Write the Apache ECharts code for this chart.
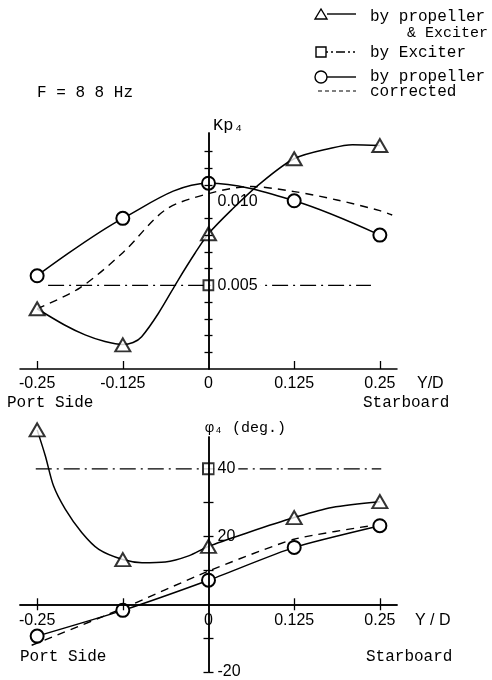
<!DOCTYPE html>
<html>
<head>
<meta charset="utf-8">
<script src="https://cdn.jsdelivr.net/npm/echarts@6/dist/echarts.min.js"></script>
<style>
html,body{margin:0;padding:0;background:#fff;}
#c{width:492px;height:680px;}
</style>
</head>
<body>
<div id="c"></div>
<script>
// ---------- data ----------
const yd = [-0.25, -0.125, 0, 0.125, 0.25];
const xLabelsTop = ['-0.25', '-0.125', '0', '0.125', '0.25'];
const xValsBottom = [-0.25, 0, 0.125, 0.25];
const xLabelsBottom = ['-0.25', '0', '0.125', '0.25'];
const xTickVals = [-0.25, -0.125, 0.125, 0.25];

const kpLabelVals = [0.005, 0.010];
const kpMinorTicks = [0.001, 0.002, 0.003, 0.004, 0.006, 0.007, 0.008, 0.009, 0.011, 0.012, 0.013];
const phiLabelVals = [-20, 20, 40];
const phiMinorTicks = [-20, -10, 10, 20, 30];

// Kp4 (top chart)
const kpPropExc = [0.00360, 0.00144, 0.00808, 0.01256, 0.01335];
const kpPropExcCurveX = [-0.25, -0.21, -0.18, -0.151, -0.125, -0.11, -0.0975, -0.073, -0.044, -0.0195, 0, 0.034, 0.073, 0.125, 0.18, 0.21, 0.25];
const kpPropExcCurveY = [0.00360, 0.00263, 0.00204, 0.00164, 0.00146, 0.00158, 0.00193, 0.00333, 0.00533, 0.00693, 0.00808, 0.00952, 0.01100, 0.01256, 0.01320, 0.01340, 0.01335];
const kpProp = [0.00557, 0.00900, 0.01110, 0.01005, 0.00800];
const kpExciter = 0.005;
const kpExciterSpan = [-0.234, 0.237];
const kpCorrectedX = [-0.25, -0.1875, -0.125, -0.0625, 0, 0.0625, 0.125, 0.1875, 0.25, 0.268];
const kpCorrectedY = [0.00360, 0.00485, 0.00695, 0.00952, 0.01048, 0.01090, 0.01060, 0.01010, 0.00946, 0.00920];

// phi4 (bottom chart)
const phiPropExc = [51.5, 13.2, 17.1, 25.6, 30.3];
const phiPropExcCurveX = [-0.25, -0.238, -0.226, -0.209, -0.185, -0.160, -0.125, -0.097, -0.063, -0.029, 0, 0.058, 0.125, 0.18, 0.25];
const phiPropExcCurveY = [51.5, 43.8, 34.9, 28.1, 21.2, 16.2, 13.2, 12.3, 12.5, 14.3, 17.1, 21.2, 25.6, 28.6, 30.3];
const phiProp = [-9.4, -1.8, 7.1, 16.8, 23.2];
const phiExciter = 40;
const phiExciterSpan = [-0.252, 0.252];
const phiCorrectedX = [-0.258, -0.125, 0, 0.125, 0.25];
const phiCorrectedY = [-12.1, -1.2, 9.8, 19.2, 23.6];

// ---------- chart ----------
const BLACK = '#000';
const NUM_FONT = 'Liberation Sans';
const TXT_FONT = 'Liberation Mono';
const LW = 1.5;
const X_RANGE = [-0.275, 0.275];
const KP_RANGE = [0, 0.0141];
const PHI_RANGE = [-20, 49.4];
const GRID_TOP = { left: 20, top: 133, width: 377, height: 236 };
const GRID_BOT = { left: 20, top: 437, width: 377, height: 235 };

const pairs = (xs, ys) => xs.map((x, i) => [x, ys[i]]);
const lookup = (vals, labels, v) => {
  const i = vals.findIndex(t => Math.abs(t - v) < 1e-9);
  return i < 0 ? '' : labels[i];
};
// distance (px) from the low edge of an axis to its zero value
const zeroDist = (range, len) => (0 - range[0]) / (range[1] - range[0]) * len;
const yZeroOffTop = zeroDist(X_RANGE, GRID_TOP.width);     // from left edge
const yZeroOffBot = zeroDist(X_RANGE, GRID_BOT.width);
const xZeroOffBot = zeroDist(PHI_RANGE, GRID_BOT.height);  // from bottom edge

const axisLineStyle = { color: BLACK, width: LW };
const tickStyle = { color: BLACK, width: 1.3 };
const numLabel = { color: BLACK, fontFamily: NUM_FONT, fontSize: 16 };

function xAxisDef(grid, opts) {
  return Object.assign({
    gridIndex: grid, type: 'value', min: X_RANGE[0], max: X_RANGE[1], z: 5,
    axisLine: { onZero: false, lineStyle: axisLineStyle },
    splitLine: { show: false }
  }, opts);
}
function yAxisDef(grid, range, opts) {
  return Object.assign({
    gridIndex: grid, type: 'value', min: range[0], max: range[1], z: 5,
    axisLine: { onZero: false, lineStyle: axisLineStyle },
    splitLine: { show: false }
  }, opts);
}
const richLabel = (fmt, whiteVal, vals) => ({
  inside: true, margin: 6,
  customValues: vals,
  formatter: v => (Math.abs(v - whiteVal) < 1e-9 ? '{w|' : '{n|') + fmt(v) + '}',
  rich: {
    w: Object.assign({ backgroundColor: '#fff', padding: [1, 3] }, numLabel),
    n: Object.assign({ padding: [1, 3] }, numLabel)
  }
});

const solid = { color: BLACK, width: LW };
const markerStyle = { color: BLACK, borderColor: BLACK, borderWidth: LW };

const option = {
  backgroundColor: '#fff',
  animation: false,
  grid: [
    Object.assign({ outerBoundsMode: 'none' }, GRID_TOP),
    Object.assign({ outerBoundsMode: 'none' }, GRID_BOT)
  ],
  xAxis: [
    xAxisDef(0, {
      position: 'bottom',
      axisTick: { inside: true, length: 8, customValues: xTickVals, lineStyle: tickStyle },
      axisLabel: Object.assign({ customValues: yd, margin: 7, formatter: v => lookup(yd, xLabelsTop, v) }, numLabel)
    }),
    xAxisDef(1, {
      position: 'bottom', offset: -xZeroOffBot,
      axisTick: { length: 6, customValues: xTickVals, lineStyle: tickStyle },
      axisLabel: Object.assign({ customValues: xValsBottom, margin: 8, formatter: v => lookup(xValsBottom, xLabelsBottom, v) }, numLabel)
    }),
    xAxisDef(1, {
      position: 'top', offset: -(GRID_BOT.height - xZeroOffBot),
      axisTick: { length: 6, customValues: xTickVals, lineStyle: tickStyle },
      axisLabel: { show: false }
    })
  ],
  yAxis: [
    yAxisDef(0, KP_RANGE, {
      position: 'left', offset: -yZeroOffTop,
      axisTick: { length: 4, customValues: kpMinorTicks, lineStyle: tickStyle },
      axisLabel: richLabel(v => v.toFixed(3), kpExciter, kpLabelVals)
    }),
    yAxisDef(0, KP_RANGE, {
      position: 'right', offset: -(GRID_TOP.width - yZeroOffTop),
      axisTick: { length: 4, customValues: kpMinorTicks, lineStyle: tickStyle },
      axisLabel: { show: false }
    }),
    yAxisDef(1, PHI_RANGE, {
      position: 'left', offset: -yZeroOffBot,
      axisTick: { length: 5, customValues: phiMinorTicks, lineStyle: tickStyle },
      axisLabel: richLabel(v => String(Math.round(v)), phiExciter, phiLabelVals)
    }),
    yAxisDef(1, PHI_RANGE, {
      position: 'right', offset: -(GRID_BOT.width - yZeroOffBot),
      axisTick: { length: 5, customValues: phiMinorTicks, lineStyle: tickStyle },
      axisLabel: { show: false }
    })
  ],
  series: [
    // ----- top: Kp4 -----
    { type: 'line', xAxisIndex: 0, yAxisIndex: 0, data: pairs(kpPropExcCurveX, kpPropExcCurveY),
      smooth: 0.3, symbol: 'none', lineStyle: solid, z: 3, silent: true },
    { type: 'scatter', xAxisIndex: 0, yAxisIndex: 0, data: pairs(yd, kpPropExc),
      symbol: 'emptyTriangle', symbolSize: [15, 13], itemStyle: markerStyle, z: 4 },
    { type: 'line', xAxisIndex: 0, yAxisIndex: 0, data: pairs(yd, kpProp),
      smooth: 0.35, symbol: 'emptyCircle', symbolSize: 13, showAllSymbol: true,
      lineStyle: solid, itemStyle: markerStyle, z: 4 },
    { type: 'line', xAxisIndex: 0, yAxisIndex: 0, data: kpExciterSpan.map(x => [x, kpExciter]),
      symbol: 'none', lineStyle: { color: BLACK, width: 1.3, type: [16, 5, 2, 5] }, z: 3 },
    { type: 'scatter', xAxisIndex: 0, yAxisIndex: 0, data: [[0, kpExciter]],
      symbol: 'emptyRect', symbolSize: 10, itemStyle: markerStyle, z: 4 },
    { type: 'line', xAxisIndex: 0, yAxisIndex: 0, data: pairs(kpCorrectedX, kpCorrectedY),
      smooth: 0.3, symbol: 'none', lineStyle: { color: BLACK, width: 1.4, type: [8, 6] }, z: 3 },

    // ----- bottom: phi4 -----
    { type: 'line', xAxisIndex: 1, yAxisIndex: 2, data: pairs(phiPropExcCurveX, phiPropExcCurveY),
      smooth: 0.3, symbol: 'none', lineStyle: solid, z: 3, clip: false },
    { type: 'scatter', xAxisIndex: 1, yAxisIndex: 2, data: pairs(yd, phiPropExc),
      symbol: 'emptyTriangle', symbolSize: [15, 13], itemStyle: markerStyle, z: 4, clip: false },
    { type: 'line', xAxisIndex: 1, yAxisIndex: 2, data: pairs(yd, phiProp),
      smooth: 0.2, symbol: 'emptyCircle', symbolSize: 13, showAllSymbol: true,
      lineStyle: solid, itemStyle: markerStyle, z: 4 },
    { type: 'line', xAxisIndex: 1, yAxisIndex: 2, data: phiExciterSpan.map(x => [x, phiExciter]),
      symbol: 'none', lineStyle: { color: BLACK, width: 1.3, type: [16, 5, 2, 5] }, z: 3 },
    { type: 'scatter', xAxisIndex: 1, yAxisIndex: 2, data: [[0, phiExciter]],
      symbol: 'emptyRect', symbolSize: 11, itemStyle: markerStyle, z: 4 },
    { type: 'line', xAxisIndex: 1, yAxisIndex: 2, data: pairs(phiCorrectedX, phiCorrectedY),
      smooth: 0.2, symbol: 'none', lineStyle: { color: BLACK, width: 1.4, type: [8, 6] }, z: 3, clip: false }
  ],
  graphic: [
    { type: 'text', x: 37, y: 93, style: { text: 'F = 8 8 Hz', fontFamily: TXT_FONT, fontSize: 16, fill: BLACK, verticalAlign: 'middle' } },
    { type: 'text', x: 213, y: 125, style: { text: 'Kp\u2084', fontFamily: TXT_FONT, fontSize: 17, fill: BLACK, verticalAlign: 'middle' } },
    { type: 'text', x: 205, y: 428, style: { text: '\u03C6\u2084 (deg.)', fontFamily: TXT_FONT, fontSize: 15, fill: BLACK, verticalAlign: 'middle' } },
    { type: 'text', x: 417, y: 384, style: { text: 'Y/D', fontFamily: NUM_FONT, fontSize: 16, fill: BLACK, verticalAlign: 'middle' } },
    { type: 'text', x: 415, y: 621, style: { text: 'Y / D', fontFamily: NUM_FONT, fontSize: 16, fill: BLACK, verticalAlign: 'middle' } },
    { type: 'text', x: 7, y: 403, style: { text: 'Port Side', fontFamily: TXT_FONT, fontSize: 16, fill: BLACK, verticalAlign: 'middle' } },
    { type: 'text', x: 363, y: 403, style: { text: 'Starboard', fontFamily: TXT_FONT, fontSize: 16, fill: BLACK, verticalAlign: 'middle' } },
    { type: 'text', x: 20, y: 657, style: { text: 'Port Side', fontFamily: TXT_FONT, fontSize: 16, fill: BLACK, verticalAlign: 'middle' } },
    { type: 'text', x: 366, y: 657, style: { text: 'Starboard', fontFamily: TXT_FONT, fontSize: 16, fill: BLACK, verticalAlign: 'middle' } },
    // legend
    { type: 'polygon', shape: { points: [[315, 19], [321, 9], [327, 19]] }, style: { fill: '#fff', stroke: BLACK, lineWidth: 1.4 } },
    { type: 'line', shape: { x1: 327, y1: 14, x2: 356, y2: 14 }, style: { stroke: BLACK, lineWidth: 1.4 } },
    { type: 'text', x: 370, y: 17, style: { text: 'by propeller', fontFamily: TXT_FONT, fontSize: 16, fill: BLACK, verticalAlign: 'middle' } },
    { type: 'text', x: 407, y: 33, style: { text: '& Exciter', fontFamily: TXT_FONT, fontSize: 15, fill: BLACK, verticalAlign: 'middle' } },
    { type: 'rect', shape: { x: 316, y: 47, width: 10, height: 10 }, style: { fill: '#fff', stroke: BLACK, lineWidth: 1.4 } },
    { type: 'line', shape: { x1: 326, y1: 52, x2: 356, y2: 52 }, style: { stroke: BLACK, lineWidth: 1.3, lineDash: [2, 3, 2, 3, 9, 3] } },
    { type: 'text', x: 370, y: 53, style: { text: 'by Exciter', fontFamily: TXT_FONT, fontSize: 16, fill: BLACK, verticalAlign: 'middle' } },
    { type: 'circle', shape: { cx: 321, cy: 77, r: 6 }, style: { fill: '#fff', stroke: BLACK, lineWidth: 1.4 } },
    { type: 'line', shape: { x1: 327, y1: 77, x2: 356, y2: 77 }, style: { stroke: BLACK, lineWidth: 1.4 } },
    { type: 'text', x: 370, y: 77, style: { text: 'by propeller', fontFamily: TXT_FONT, fontSize: 16, fill: BLACK, verticalAlign: 'middle' } },
    { type: 'line', shape: { x1: 318, y1: 91, x2: 356, y2: 91 }, style: { stroke: BLACK, lineWidth: 1.2, lineDash: [4, 3] } },
    { type: 'text', x: 370, y: 92, style: { text: 'corrected', fontFamily: TXT_FONT, fontSize: 16, fill: BLACK, verticalAlign: 'middle' } }
  ]
};

const chart = echarts.init(document.getElementById('c'), null, { renderer: 'canvas' });
chart.setOption(option);
</script>
</body>
</html>
